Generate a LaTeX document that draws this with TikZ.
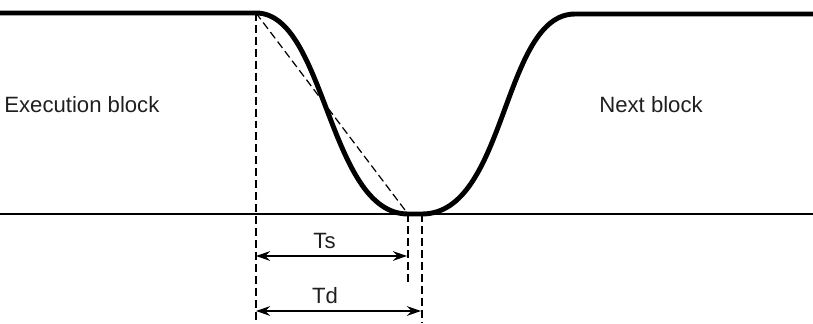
\documentclass[tikz,border=0pt]{standalone}
\usepackage{fontspec}
\setmainfont{Liberation Sans}
\usetikzlibrary{calc, positioning, arrows.meta}

\tikzset{
  speed/.style={line width=2.8pt, line join=round},
  base/.style={line width=0.8pt},
  guide/.style={line width=0.7pt, dash pattern=on 4.5pt off 2.3pt},
  span/.style={line width=0.9pt, {Stealth[length=8pt, width=5.5pt]}-{Stealth[length=8pt, width=5.5pt]}},
  lbl/.style={font=\fontsize{12.6}{15}\selectfont, text=black!88, inner sep=0pt}
}

\begin{document}
\begin{tikzpicture}
  \useasboundingbox (0,0) rectangle (16.26,6.46);

  % key points of the speed curve
  \coordinate (l0) at (0,6.2);
  \coordinate (s) at (5.12,6.2);
  \coordinate (e) at (8.16,2.18);
  \coordinate (f) at (8.44,2.18);
  \coordinate (r) at (11.5,6.18);
  \coordinate (r0) at (16.26,6.18);

  % base line
  \coordinate (b0) at (0,2.18);
  \coordinate (b1) at (16.26,2.18);
  \draw[base] (b0) -- (b1);

  % speed curve
  \draw[speed] (l0) -- (s) .. controls (6.52,6.2) and (6.56,2.18) .. (e)
    -- (f) .. controls (10.14,2.18) and (10.04,6.18) .. (r) -- (r0);

  % guide lines
  \coordinate (sb) at (5.12,0);
  \coordinate (eb) at (8.16,0.8);
  \coordinate (fb) at (8.44,0);
  \draw[guide] (s) -- (sb);
  \draw[guide] (e) -- (eb);
  \draw[guide] (f) -- (fb);
  \draw[guide] (s) -- (e);

  % time spans
  \coordinate (ts0) at (5.12,1.34);
  \coordinate (ts1) at (8.14,1.34);
  \coordinate (td0) at (5.12,0.24);
  \coordinate (td1) at (8.42,0.24);
  \draw[span] (ts0) -- (ts1);
  \draw[span] (td0) -- (td1);
  \node[lbl, anchor=base] (ts) at (6.49,1.5) {Ts};
  \node[lbl, anchor=base] (td) at (6.5,0.4) {Td};

  \node[lbl, anchor=base west] (exec) at (0.08,4.22) {Execution block};
  \node[lbl, anchor=base west] (next) at (11.98,4.22) {Next block};
\end{tikzpicture}
\end{document}
